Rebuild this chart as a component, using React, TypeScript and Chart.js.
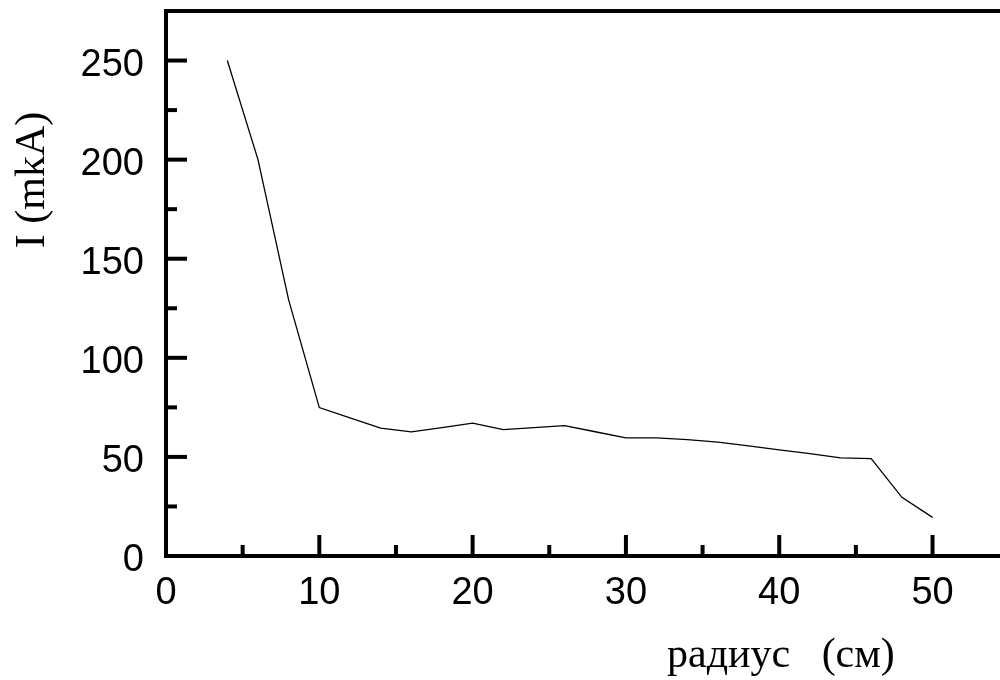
import React, { useEffect, useRef } from "react";
import { Chart, registerables } from "chart.js";

Chart.register(...registerables);

// ---- data ----
const radiusCm = [4, 6, 8, 10, 12, 14, 16, 18, 20, 22, 24, 26, 28, 30, 32, 34, 36, 38, 40, 42, 44, 46, 48, 50];
const currentMkA = [250, 200, 129.2, 74.9, 69.7, 64.5, 62.6, 64.8, 67.0, 63.8, 64.8, 65.8, 62.7, 59.6, 59.6, 58.7, 57.5, 55.6, 53.5, 51.7, 49.5, 49.1, 29.6, 19.5];
const xRange = [0, 54.4];
const yRange = [0, 275];
const xStep = 5;
const yStep = 25;
const xLabelEvery = 10;
const yLabelEvery = 50;
const xTitle = "радиус   (см)";
const yTitle = "I (mkA)";

const SANS = "'Liberation Sans', Arial, sans-serif";
const SERIF = "'Liberation Serif', 'Times New Roman', serif";

const zeroPad = (s: any) => {
  s.paddingLeft = 0;
  s.paddingRight = 0;
  s.paddingTop = 0;
  s.paddingBottom = 0;
};

const framePlugin = {
  id: "frame",
  afterDatasetsDraw(chart: any) {
    const { ctx, chartArea, scales } = chart;
    ctx.save();
    ctx.strokeStyle = "#000";
    ctx.lineCap = "butt";
    const xs = scales.x;
    const ys = scales.y;
    ctx.lineWidth = 4;
    ys.ticks.forEach((t: any) => {
      const py = ys.getPixelForValue(t.value);
      const len = t.value % yLabelEvery === 0 ? 21 : 11;
      ctx.beginPath();
      ctx.moveTo(chartArea.left, py);
      ctx.lineTo(chartArea.left + len, py);
      ctx.stroke();
    });
    xs.ticks.forEach((t: any) => {
      const px = xs.getPixelForValue(t.value);
      const len = t.value % xLabelEvery === 0 ? 21 : 11;
      ctx.beginPath();
      ctx.moveTo(px, chartArea.bottom);
      ctx.lineTo(px, chartArea.bottom - len);
      ctx.stroke();
    });
    // top frame line
    ctx.beginPath();
    ctx.moveTo(chartArea.left - 2, chartArea.top);
    ctx.lineTo(chart.width, chartArea.top);
    ctx.stroke();
    // axis titles
    ctx.fillStyle = "#000";
    ctx.font = `42px ${SERIF}`;
    ctx.textAlign = "left";
    ctx.textBaseline = "alphabetic";
    ctx.fillText(xTitle, 667, 667);
    ctx.translate(44, 180);
    ctx.rotate(-Math.PI / 2);
    ctx.textAlign = "center";
    ctx.fillText(yTitle, 0, 0);
    ctx.restore();
  },
};

export default function App() {
  const ref = useRef<HTMLCanvasElement | null>(null);
  useEffect(() => {
    document.body.style.margin = "0";
    const canvas = ref.current!;
    const chart = new Chart(canvas, {
      type: "line",
      data: {
        datasets: [
          {
            data: radiusCm.map((r, i) => ({ x: r, y: currentMkA[i] })),
            borderColor: "#000",
            borderWidth: 1.3,
            pointRadius: 0,
            tension: 0,
            fill: false,
          },
        ],
      },
      options: {
        responsive: false,
        animation: false,
        devicePixelRatio: 1,
        layout: { padding: { top: 11, right: 0, left: 0, bottom: 0 } },
        plugins: { legend: { display: false }, tooltip: { enabled: false } },
        scales: {
          x: {
            type: "linear",
            min: xRange[0],
            max: xRange[1],
            afterFit: (s: any) => {
              s.height = 124;
              zeroPad(s);
            },
            grid: { display: true, drawOnChartArea: false, drawTicks: false },
            border: { display: true, color: "#000", width: 4 },
            ticks: {
              stepSize: xStep,
              includeBounds: false,
              padding: 15,
              color: "#000",
              font: { family: SANS, size: 38 },
              maxRotation: 0,
              autoSkip: false,
              callback: (v: any) => (Number(v) % xLabelEvery === 0 ? String(v) : ""),
            },
          },
          y: {
            type: "linear",
            min: yRange[0],
            max: yRange[1],
            afterFit: (s: any) => {
              s.width = 166;
              zeroPad(s);
            },
            grid: { display: true, drawOnChartArea: false, drawTicks: false },
            border: { display: true, color: "#000", width: 4 },
            ticks: {
              stepSize: yStep,
              includeBounds: false,
              padding: 22,
              labelOffset: 5,
              color: "#000",
              font: { family: SANS, size: 38 },
              autoSkip: false,
              callback: (v: any) => (Number(v) % yLabelEvery === 0 ? String(v) : ""),
            },
          },
        },
      },
      plugins: [framePlugin],
    });
    return () => chart.destroy();
  }, []);
  return (
    <div style={{ position: "absolute", left: 0, top: 0, width: 1000, height: 680, background: "#fff" }}>
      <canvas ref={ref} width={1000} height={680} />
    </div>
  );
}
